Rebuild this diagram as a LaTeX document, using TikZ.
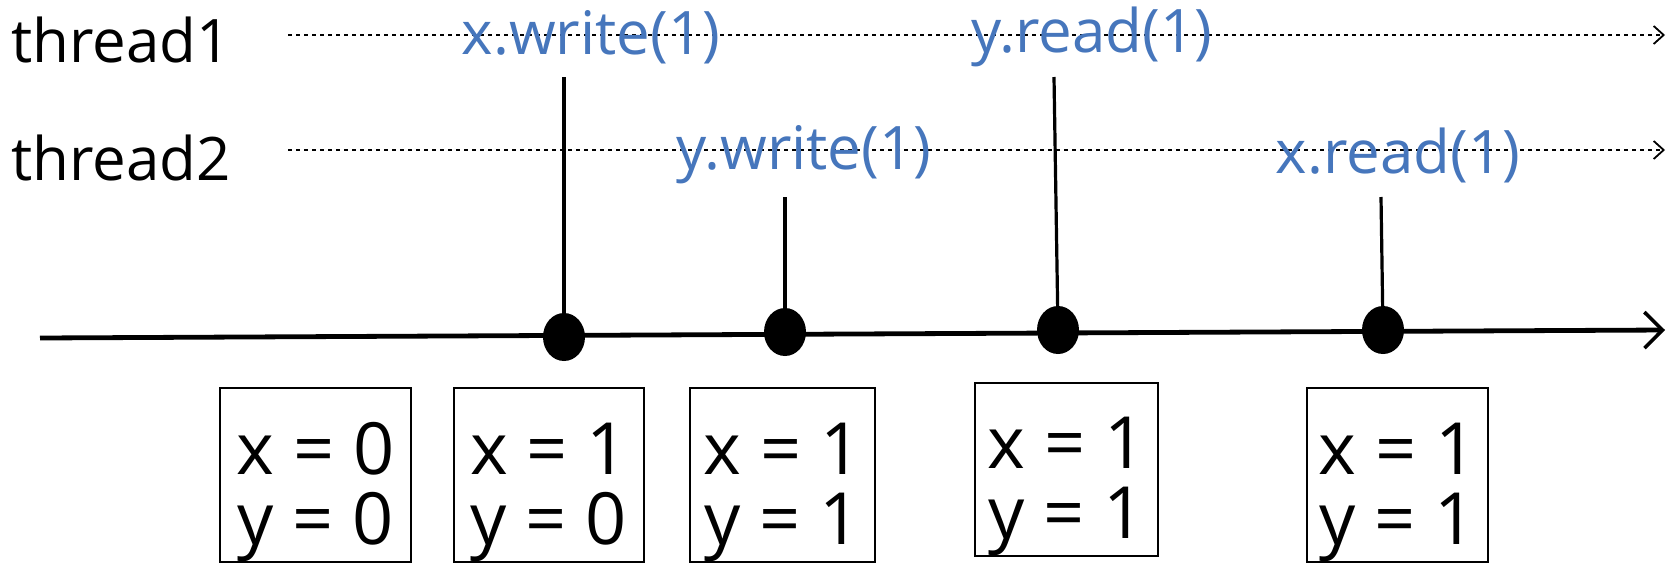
\documentclass[tikz,border=0pt]{standalone}
\usepackage{fontspec}
\setmainfont{Open Sans}
\usetikzlibrary{arrows.meta,shapes.geometric}
\definecolor{opblue}{RGB}{70,118,188}
\newcommand{\toprule}{\rule{0pt}{43pt}}
\begin{document}
\begin{tikzpicture}[x=0.5pt,y=-0.5pt,
  thr/.style={font=\fontsize{30}{32}\selectfont, inner sep=0pt, anchor=west},
  op/.style={font=\fontsize{30}{32}\selectfont, text=opblue, inner sep=0pt},
  lane/.style={line width=0.9pt, dash pattern=on 2pt off 2pt,
    -{Straight Barb[length=5pt,width=9pt,line width=0.9pt]}},
  axis/.style={line width=2.4pt, -{Straight Barb[length=9pt,width=18pt,line width=1.8pt]}},
  tick/.style={line width=1.6pt},
  ev/.style={ellipse, fill=black, inner sep=0pt, minimum width=21pt, minimum height=24pt},
  state/.style={draw, line width=1pt, align=center, inner sep=0pt,
    font=\fontsize{36}{35}\selectfont, minimum height=85pt}
]
\useasboundingbox (0,0) rectangle (1671,563);

% thread labels
\node[thr] (th1) at (11,40) {thread1};
\node[thr] (th2) at (11,158) {thread2};

% thread lanes
\coordinate (l1s) at (288,35);
\coordinate (l1e) at (1665,35);
\coordinate (l2s) at (288,150);
\coordinate (l2e) at (1665,150);
\draw[lane] (l1s) -- (l1e);
\draw[lane] (l2s) -- (l2e);

% operations
\node[op] (xw) at (591,37) {x.write(1)};
\node[op] (yr) at (1092,37) {y.read(1)};
\node[op] (yw) at (804,155) {y.write(1)};
\node[op] (xr) at (1398,155) {x.read(1)};

% time axis
\coordinate (as) at (40,338);
\coordinate (ae) at (1665,330);
\draw[axis] (as) -- (ae);

% events
\node[ev] (d1) at (564,337) {};
\node[ev] (d2) at (785,332) {};
\node[ev] (d3) at (1058,330) {};
\node[ev] (d4) at (1383,330) {};

\coordinate (t1) at (564,77);
\coordinate (t2) at (785,197);
\coordinate (t3) at (1054,77);
\coordinate (t4) at (1381,197);
\draw[tick] (t1) -- (d1.center);
\draw[tick] (t2) -- (d2.center);
\draw[tick] (t3) -- (d3.center);
\draw[tick] (t4) -- (d4.center);

% states
\node[state, minimum width=95.5pt] (s1) at (315.5,475) {\toprule x = 0\\y = 0};
\node[state, minimum width=95pt] (s2) at (549,475) {\toprule x = 1\\y = 0};
\node[state, minimum width=92.5pt] (s3) at (782.5,475) {\toprule x = 1\\y = 1};
\node[state, minimum width=91.5pt, minimum height=81.5pt] (s4) at (1066.5,469.5) {\toprule x = 1\\y = 1};
\node[state, minimum width=90.5pt] (s5) at (1397.5,475) {\toprule x = 1\\y = 1};
\end{tikzpicture}
\end{document}
